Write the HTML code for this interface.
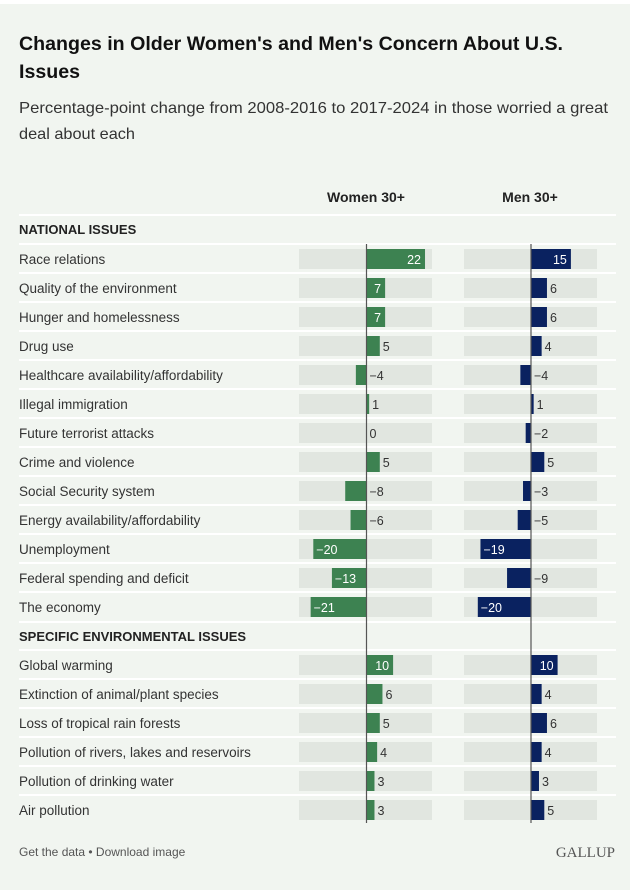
<!DOCTYPE html>
<html><head><meta charset="utf-8"><style>
html,body{margin:0;padding:0;background:#fff;}
svg{display:block;font-family:"Liberation Sans",Arial,sans-serif;}
</style></head><body>
<svg id="chart" width="636" height="890" viewBox="0 0 636 890">
<rect x="0" y="4" width="630" height="886" fill="#f1f5f0"/>
<text x="19" y="50" font-size="19" font-weight="bold" fill="#111" textLength="544" lengthAdjust="spacingAndGlyphs">Changes in Older Women's and Men's Concern About U.S.</text>
<text x="19" y="78" font-size="19" font-weight="bold" fill="#111" textLength="61" lengthAdjust="spacingAndGlyphs">Issues</text>
<text x="19" y="113" font-size="16" fill="#333" textLength="589" lengthAdjust="spacingAndGlyphs">Percentage-point change from 2008-2016 to 2017-2024 in those worried a great</text>
<text x="19" y="139" font-size="16" fill="#333" textLength="116" lengthAdjust="spacingAndGlyphs">deal about each</text>
<text x="366" y="202" font-size="14" font-weight="bold" fill="#222" text-anchor="middle">Women 30+</text>
<text x="530" y="202" font-size="14" font-weight="bold" fill="#222" text-anchor="middle">Men 30+</text>
<g id="rows"></g>
<text x="19" y="856" font-size="12" fill="#555">Get the data • Download image</text>
<text x="615" y="857" font-size="15" fill="#555" text-anchor="end" font-family="Liberation Serif, serif">GALLUP</text>
</svg>
<script>
const categories1 = ["Race relations","Quality of the environment","Hunger and homelessness","Drug use","Healthcare availability/affordability","Illegal immigration","Future terrorist attacks","Crime and violence","Social Security system","Energy availability/affordability","Unemployment","Federal spending and deficit","The economy"];
const women1 = [22,7,7,5,-4,1,0,5,-8,-6,-20,-13,-21];
const men1 = [15,6,6,4,-4,1,-2,5,-3,-5,-19,-9,-20];
const categories2 = ["Global warming","Extinction of animal/plant species","Loss of tropical rain forests","Pollution of rivers, lakes and reservoirs","Pollution of drinking water","Air pollution"];
const women2 = [10,6,5,4,3,3];
const men2 = [10,4,6,4,3,5];
const sections = ["NATIONAL ISSUES","SPECIFIC ENVIRONMENTAL ISSUES"];

const NS="http://www.w3.org/2000/svg";
const g=document.getElementById('rows');
function mk(t,a){const e=document.createElementNS(NS,t);for(const k in a)e.setAttribute(k,a[k]);g.appendChild(e);return e;}
const scale=133/50;
function xW(v){return 366.5+v*scale;}
function xM(v){return 531+v*scale;}
function sep(y){const l=mk('rect',{x:19,y:y,width:597,height:2,fill:'#ffffff'});

}
function header(txt,y){sep(y-15);const t=mk('text',{x:19,y:y+5,'font-size':13,'font-weight':'bold',fill:'#222'});t.textContent=txt;

}
function bar(xf,v,cy,color,trackX){
  const tr=mk('rect',{x:trackX,y:cy-10,width:133,height:20,fill:'#e1e6e0'});
  
  
  const x0=xf(0),x1=xf(v);
  const r=mk('rect',{x:Math.min(x0,x1),y:cy-10,width:Math.abs(x1-x0),height:20,fill:color});
  
  
  const inside=(v>=7||v<=-10);
  const lab=(v<0?'\u2212':'')+Math.abs(v);
  let tx,anchor,fill;
  if(inside){fill='#fff';if(v>0){tx=x1-4;anchor='end';}else{tx=x1+3;anchor='start';}}
  else{fill='#333';if(v>=0){tx=Math.max(x0,x1)+3;anchor='start';}else{tx=x0+3;anchor='start';}}
  const t=mk('text',{x:tx,y:cy+5,'font-size':12.5,fill:fill,'text-anchor':anchor});
  t.textContent=lab;
  
  
}
function row(name,w,m,cy){
  sep(cy-16);
  const t=mk('text',{x:19,y:cy+5,'font-size':13.5,fill:'#333'});t.textContent=name;
  
  
  bar(xW,w,cy,'#3d8251',299);
  bar(xM,m,cy,'#0a2260',464);
}
header(sections[0],229);
categories1.forEach((c,i)=>row(c,women1[i],men1[i],259+i*29));
header(sections[1],636);
categories2.forEach((c,i)=>row(c,women2[i],men2[i],665+i*29));
const z1=mk('line',{x1:xW(0),x2:xW(0),y1:244,y2:823,stroke:'#555','stroke-width':1.2});


const z2=mk('line',{x1:xM(0),x2:xM(0),y1:244,y2:823,stroke:'#555','stroke-width':1.2});


</script>
</body></html>
